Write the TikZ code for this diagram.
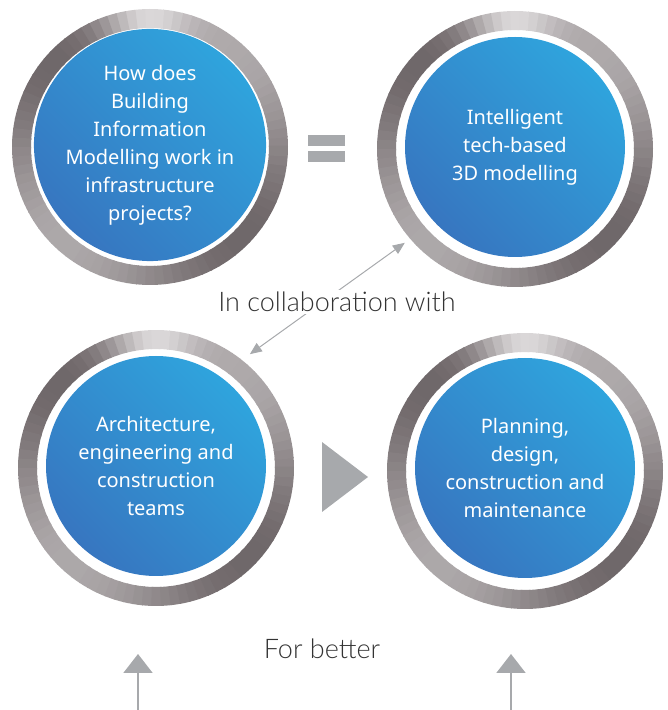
\documentclass[tikz,border=0pt]{standalone}
\usepackage{fontspec}
\setmainfont{Noto Sans}
\newfontfamily\thinfont{Lato Light}
\usetikzlibrary{arrows.meta,calc}

\definecolor{ringdark}{HTML}{6B6365}
\definecolor{ringlight}{HTML}{DAD7D8}
\definecolor{bluetop}{HTML}{2FA4DD}
\definecolor{bluebottom}{HTML}{3776C0}
\definecolor{signgray}{HTML}{A7A9AC}
\definecolor{labelgray}{HTML}{333333}

% metallic ring around a disc, drawn as short arcs of changing shade
\newcommand\metalring[1]{%
  \foreach \a in {0,4,...,356}{
    \pgfmathtruncatemacro\p{min(100,max(0,32+28*cos(2*(\a-45))+68*exp(-((\a-90)/20)^2)))}
    \colorlet{ringc}{ringlight!\p!ringdark}
    \draw[ringc, line width=19pt] (#1) ++(\a:128.5) arc[start angle=\a, end angle=\a+4.6, radius=128.5];
  }%
}

\tikzset{
  disc/.style={circle, minimum size=220pt, inner sep=0pt,
    top color=bluetop, bottom color=bluebottom, shading angle=-45,
    text=white, align=center, font=\fontsize{20}{28}\selectfont},
  halo/.style={circle, minimum size=276pt, inner sep=0pt, outer sep=8pt},
  lbltext/.style={font=\thinfont\fontsize{27}{32}\selectfont, text=labelgray, anchor=base},
  pointer/.style={signgray, line width=1pt, {Triangle[length=12pt,width=10pt]}-{Triangle[length=12pt,width=10pt]}},
  uparrow/.style={signgray, line width=2pt, -{Triangle[length=19pt,width=29pt]}},
}

\begin{document}
\begin{tikzpicture}[x=1pt,y=1pt]
  \useasboundingbox (0,0) rectangle (668,710);
  % centres of the four circles
  \coordinate (p1) at (150,565);
  \coordinate (p2) at (515,563);
  \coordinate (p3) at (156,244);
  \coordinate (p4) at (525,242);
  % rings, sitting a little lower than the discs
  \metalring{$(p1)+(0,-2)$}
  \metalring{$(p2)+(0,-2)$}
  \metalring{$(p3)+(0,-2)$}
  \metalring{$(p4)+(0,-3)$}
  \node[halo] (c1) at (p1) {};
  \node[halo] (c2) at (p2) {};
  \node[halo] (c3) at (p3) {};
  \node[halo] (c4) at (p4) {};
  % discs
  \node[disc] (b1) at (p1) {How does\\Building\\Information\\Modelling work in\\infrastructure\\projects?};
  \node[disc] (b2) at (p2) {Intelligent\\tech-based\\3D modelling};
  \node[disc] (b3) at (p3) {Architecture,\\engineering and\\construction\\teams};
  \node[disc] (b4) at (p4) {Planning,\\design,\\construction and\\maintenance};
  % equals sign and play sign
  \fill[signgray] (308,564) rectangle (345,575);
  \fill[signgray] (308,548) rectangle (345,559);
  \fill[signgray] (322,268) -- (368,233) -- (322,198) -- cycle;
  % collaboration arrow
  \draw[pointer] (c3.50) -- (c2.221);
  \node[lbltext, fill=white, inner sep=2pt] (collab) at (337,398) {In collaboration with};
  % for better
  \node[lbltext] (better) at (322,51) {For better};
  \coordinate (la) at (138,0);
  \coordinate (lt) at (138,56);
  \coordinate (ra) at (511,0);
  \coordinate (rt) at (511,56);
  \draw[uparrow] (la) -- (lt);
  \draw[uparrow] (ra) -- (rt);
\end{tikzpicture}
\end{document}
